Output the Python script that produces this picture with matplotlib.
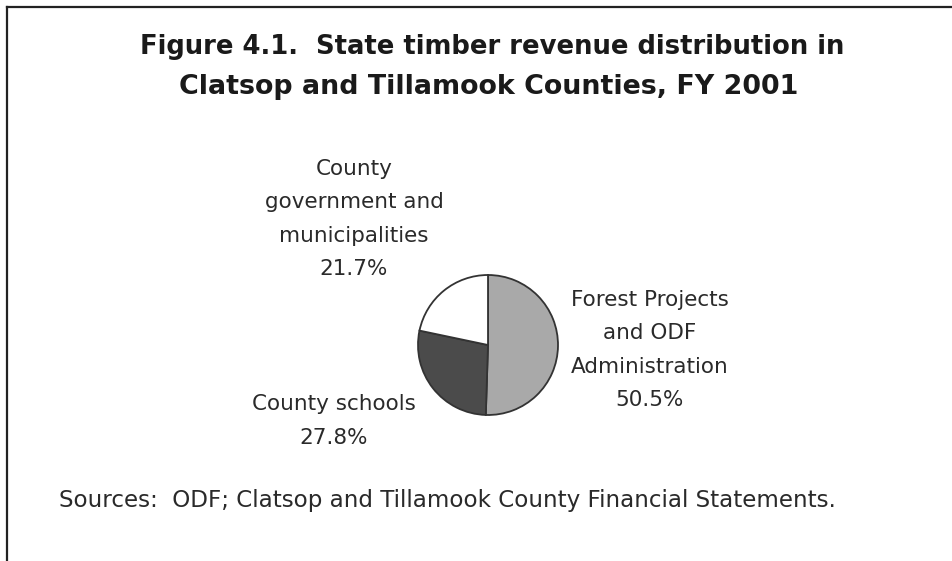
import matplotlib
matplotlib.use("Agg")
import matplotlib.pyplot as plt
from matplotlib.lines import Line2D

# Revenue shares, FY 2001
categories = ["Forest Projects\nand ODF\nAdministration",
              "County schools",
              "County\ngovernment and\nmunicipalities"]
shares = [50.5, 27.8, 21.7]
colors = ["#a9a9a9", "#4b4b4b", "#ffffff"]

plt.rcParams["font.family"] = ["DejaVu Sans"]

fig = plt.figure(figsize=(9.53, 5.61), dpi=100)
W, H = 953.0, 561.0

# frame lines (top and left only)
fig.add_artist(Line2D([7 / W, 1], [1 - 7 / H, 1 - 7 / H], color="#222222", lw=1.6))
fig.add_artist(Line2D([7 / W, 7 / W], [0, 1 - 7 / H], color="#222222", lw=1.6))

fig.text(492 / W, 1 - 47 / H, "Figure 4.1.  State timber revenue distribution in",
         ha="center", va="center", fontsize=18.6, fontweight="bold", color="#1a1a1a")
fig.text(489 / W, 1 - 87 / H, "Clatsop and Tillamook Counties, FY 2001",
         ha="center", va="center", fontsize=19.4, fontweight="bold", color="#1a1a1a")

# pie axes: center (488, 345), radius 70 px
r = 70
ax = fig.add_axes([(488 - r) / W, 1 - (345 + r) / H, 2 * r / W, 2 * r / H])
ax.pie(shares, colors=colors, startangle=90, counterclock=False,
       wedgeprops=dict(edgecolor="#333333", linewidth=1.3))
ax.set_xlim(-1, 1)
ax.set_ylim(-1, 1)
ax.set_aspect("equal")
ax.axis("off")

label_pos = [(650, 350), (334, 421), (354, 219)]
for name, val, (x, y) in zip(categories, shares, label_pos):
    fig.text(x / W, 1 - y / H, "%s\n%.1f%%" % (name, val), ha="center", va="center",
             fontsize=15.5, color="#2a2a2a", linespacing=1.82)

fig.text(447 / W, 1 - 501 / H,
         "Sources:  ODF; Clatsop and Tillamook County Financial Statements.",
         ha="center", va="center", fontsize=16.6, color="#2a2a2a")

fig.savefig("out.png", dpi=100, facecolor="white")
